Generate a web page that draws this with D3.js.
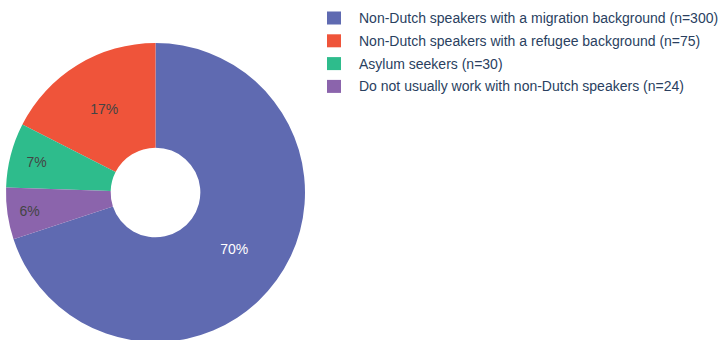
<!DOCTYPE html>
<html>
<head>
<meta charset="utf-8">
<script src="https://cdn.jsdelivr.net/npm/d3@7/dist/d3.min.js"></script>
<style>
  html, body { margin: 0; padding: 0; background: #fff; }
  svg { display: block; }
</style>
</head>
<body>
<svg id="chart" width="728" height="340"></svg>
<script>
// Survey responses: which groups do respondents work with
const categories = [
  "Non-Dutch speakers with a migration background",
  "Non-Dutch speakers with a refugee background",
  "Asylum seekers",
  "Do not usually work with non-Dutch speakers"
];
const counts = [300, 75, 30, 24];
const colors = ["#5f6ab1", "#ef543a", "#2ebc8c", "#8b64ac"];

const W = 728, H = 340;
const cx = 155.5, cy = 192.5, R = 149.5;
const hole = 0.3;
const fontFamily = "'Liberation Sans', Arial, sans-serif";
const textColor = "#2a3f5f";

const svg = d3.select("#chart");
const total = d3.sum(counts);

const data = categories.map((c, i) => ({ label: c, value: counts[i], color: colors[i] }));

// Largest slice ends at 12 o'clock; the rest continue counter-clockwise
const start = 2 * Math.PI * counts[0] / total;
const pie = d3.pie()
  .value(d => d.value)
  .sort(null)
  .startAngle(start)
  .endAngle(start - 2 * Math.PI);

const arcs = pie(data);
const arc = d3.arc().innerRadius(R * hole).outerRadius(R);

const g = svg.append("g").attr("transform", `translate(${cx},${cy})`);

g.selectAll("path.slice")
  .data(arcs)
  .join("path")
  .attr("class", "slice")
  .attr("d", arc)
  .attr("fill", d => d.data.color);

// Percent labels: centred on the circle inscribed in each slice
const pctFmt = v => Math.round(100 * v / total) + "%";
g.selectAll("text.pct")
  .data(arcs)
  .join("text")
  .attr("class", "pct")
  .each(function (d) {
    const half = Math.abs(d.endAngle - d.startAngle) / 2;
    const rIn = Math.min(1 / (1 + 1 / Math.sin(half)), (1 - hole) / 2);
    const rc = (1 - rIn) * R;
    const mid = (d.startAngle + d.endAngle) / 2;
    d3.select(this)
      .attr("x", rc * Math.sin(mid))
      .attr("y", -rc * Math.cos(mid))
      .attr("dy", "0.35em");
  })
  .attr("text-anchor", "middle")
  .attr("font-family", fontFamily)
  .attr("font-size", 14)
  .attr("fill", (d, i) => i === 0 ? "#ffffff" : "#444444")
  .text(d => pctFmt(d.data.value));

// Legend
const legend = svg.append("g").attr("transform", "translate(327,18)");
const rowH = 22.8;
const rows = legend.selectAll("g.row")
  .data(data)
  .join("g")
  .attr("class", "row")
  .attr("transform", (d, i) => `translate(0,${i * rowH})`);

rows.append("rect")
  .attr("x", 0).attr("y", -6.5)
  .attr("width", 14).attr("height", 13)
  .attr("fill", d => d.color);

rows.append("text")
  .attr("x", 32)
  .attr("dy", "0.35em")
  .attr("font-family", fontFamily)
  .attr("font-size", 14)
  .attr("fill", textColor)
  .text(d => `${d.label} (n=${d.value})`);
</script>
</body>
</html>
